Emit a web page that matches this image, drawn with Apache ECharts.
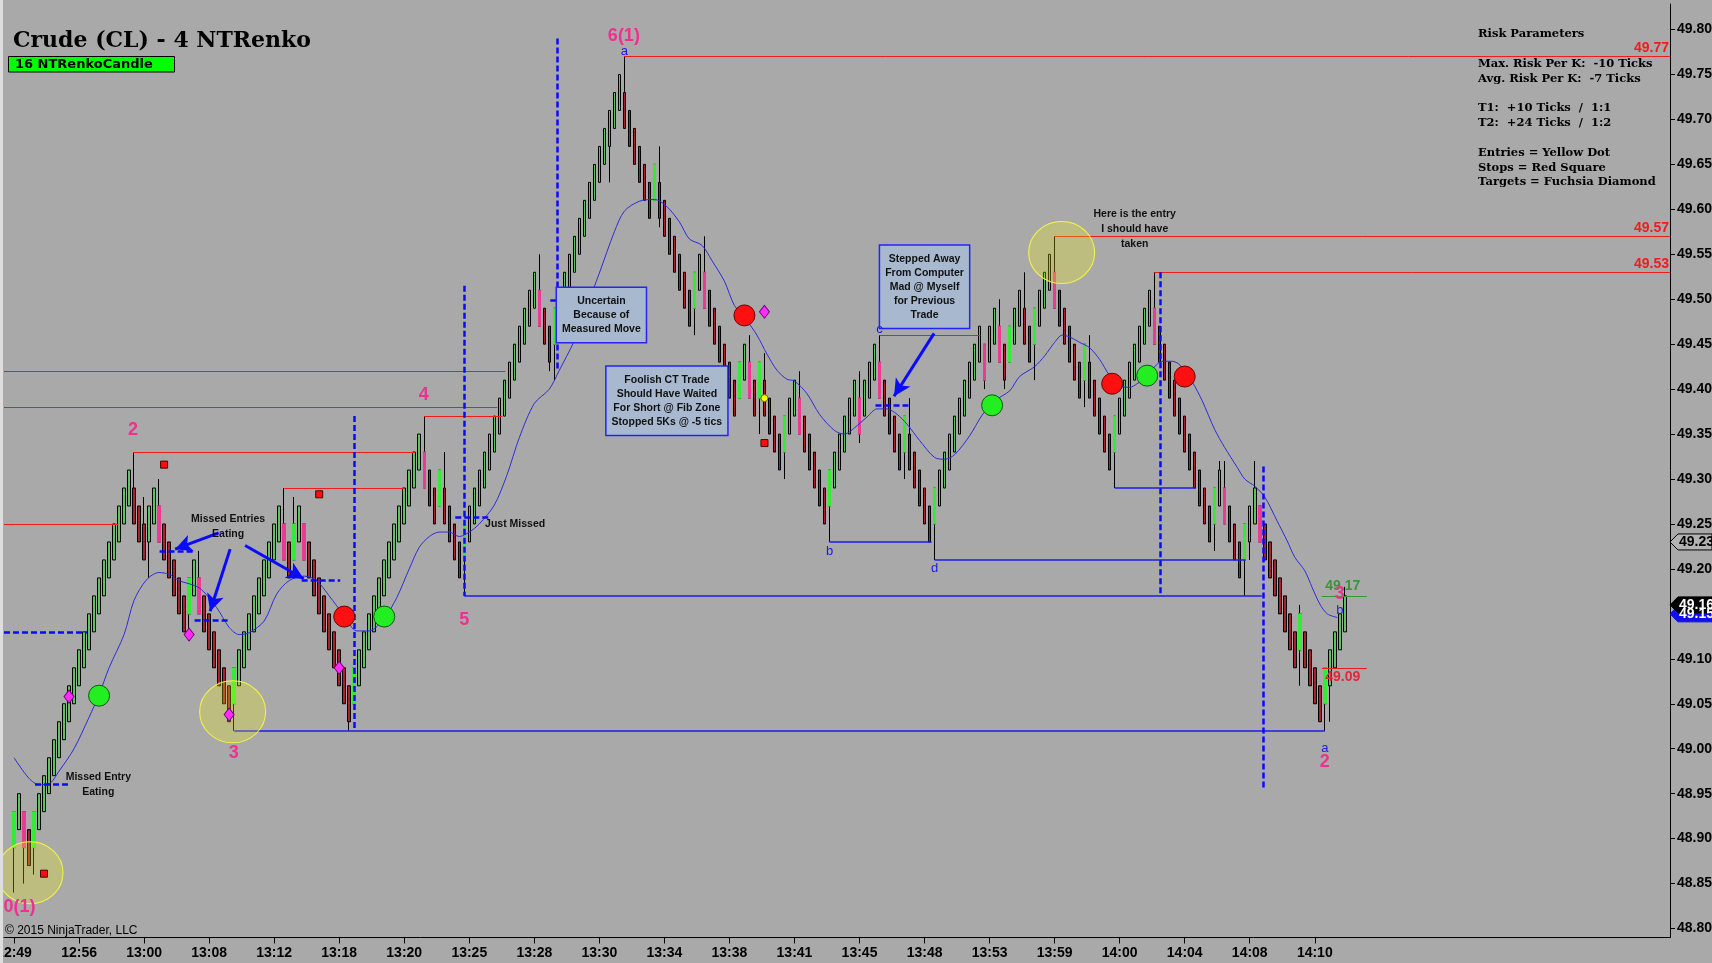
<!DOCTYPE html>
<html><head><meta charset="utf-8">
<script src="https://cdn.jsdelivr.net/npm/echarts@6.0.0/dist/echarts.min.js"></script>
<style>
html,body{margin:0;padding:0;background:#a9a9a9;overflow:hidden;}
#chart{width:1712px;height:963px;}
</style></head><body><div id="chart"></div>
<script>
// ================= DATA =================
const timeLabels = ['12:49','12:56','13:00','13:08','13:12','13:18','13:20','13:25','13:28','13:30','13:34',
  '13:38','13:41','13:45','13:48','13:53','13:59','14:00','14:04','14:08','14:10'];
const barsPerTimeLabel = 13;
const priceTicks = [48.80,48.85,48.90,48.95,49.00,49.05,49.10,49.15,49.20,49.25,49.30,49.35,49.40,
  49.45,49.50,49.55,49.60,49.65,49.70,49.75,49.80];
const brickSize = 0.04;
const firstBarUp = true;
// close of every Renko bar, left to right
const closes = [
  48.93,48.95,48.89,48.87,48.93,48.95,48.97,48.99,49.01,49.03,49.05,49.07,49.09,
  49.11,49.13,49.15,49.17,49.19,49.21,49.23,49.25,49.27,49.29,49.31,49.25,49.23,
  49.21,49.27,49.29,49.23,49.21,49.19,49.17,49.15,49.13,49.19,49.21,49.15,49.13,
  49.11,49.09,49.07,49.05,49.03,49.09,49.11,49.13,49.15,49.17,49.19,49.21,49.23,
  49.25,49.27,49.21,49.19,49.25,49.27,49.21,49.19,49.17,49.15,49.13,49.11,49.09,
  49.07,49.05,49.03,49.09,49.11,49.13,49.15,49.17,49.19,49.21,49.23,49.25,49.27,
  49.29,49.31,49.33,49.35,49.29,49.27,49.25,49.31,49.25,49.23,49.21,49.19,49.25,
  49.27,49.29,49.31,49.33,49.35,49.37,49.39,49.41,49.43,49.45,49.47,49.49,49.51,
  49.53,49.47,49.45,49.43,49.49,49.51,49.53,49.55,49.57,49.59,49.61,49.63,49.65,
  49.67,49.69,49.71,49.73,49.75,49.69,49.67,49.65,49.63,49.61,49.59,49.65,49.59,
  49.57,49.55,49.53,49.51,49.49,49.47,49.53,49.55,49.49,49.47,49.45,49.43,49.41,
  49.39,49.37,49.43,49.45,49.39,49.37,49.43,49.37,49.35,49.33,49.31,49.37,49.39,
  49.41,49.35,49.33,49.31,49.29,49.27,49.25,49.31,49.33,49.35,49.37,49.39,49.41,
  49.35,49.41,49.43,49.45,49.39,49.37,49.35,49.33,49.31,49.37,49.31,49.29,49.27,
  49.25,49.23,49.29,49.31,49.33,49.35,49.37,49.39,49.41,49.43,49.45,49.47,49.41,
  49.47,49.49,49.43,49.41,49.47,49.49,49.51,49.45,49.43,49.49,49.51,49.53,49.55,
  49.49,49.47,49.45,49.43,49.41,49.39,49.45,49.39,49.37,49.35,49.33,49.31,49.37,
  49.39,49.41,49.43,49.45,49.47,49.49,49.51,49.45,49.43,49.41,49.39,49.37,49.35,
  49.33,49.31,49.29,49.27,49.25,49.23,49.29,49.31,49.25,49.23,49.21,49.19,49.25,
  49.27,49.29,49.23,49.21,49.19,49.17,49.15,49.13,49.11,49.09,49.15,49.09,49.07,
  49.05,49.03,49.09,49.11,49.13,49.15,49.17
];
// reversal bars painted lime (up) / pink (down)
const limePinkBars = [0,2,4,29,35,37,44,54,56,58,68,82,85,90,105,108,128,136,138,145,147,149,154,157,
  163,169,173,178,184,194,197,199,204,208,214,220,228,240,242,246,249,257,262];
const wickHighs = [[24,49.33],[26,49.28],[29,49.30],[37,49.22],[54,49.29],[56,49.28],[82,49.37],[86,49.33],
  [105,49.55],[122,49.77],[129,49.67],[138,49.57],[147,49.46],[150,49.44],[157,49.42],[169,49.42],[173,49.46],
  [179,49.39],[197,49.50],[202,49.53],[208,49.57],[215,49.46],[228,49.53],[241,49.32],[242,49.32],[248,49.32],
  [257,49.16],[266,49.18]];
const wickLows = [[0,48.84],[2,48.85],[4,48.86],[27,49.19],[35,49.12],[44,49.02],[67,49.02],[90,49.17],
  [107,49.42],[108,49.41],[119,49.63],[129,49.58],[136,49.46],[149,49.35],[154,49.30],[163,49.23],[169,49.34],
  [178,49.30],[184,49.21],[194,49.40],[198,49.40],[204,49.41],[214,49.38],[220,49.29],[240,49.22],[246,49.17],
  [247,49.21],[257,49.07],[262,49.02],[263,49.03]];
// blue moving average [bar, price]
const maLine = [[0,48.99],[3,48.967],[5,48.96],[7,48.961],[9,48.975],[12,49.0],[15,49.035],[17,49.06],[19,49.09],
  [22,49.127],[24,49.165],[26.5,49.188],[29,49.196],[31,49.194],[33,49.187],[37,49.179],[40.5,49.157],[43,49.135],
  [45,49.127],[47,49.129],[50,49.142],[52.5,49.172],[55,49.187],[58,49.192],[60.5,49.187],[63,49.17],[66,49.148],
  [68.5,49.131],[71,49.131],[74,49.145],[76.5,49.168],[79,49.2],[81,49.224],[83,49.236],[85,49.241],[87,49.241],
  [89,49.236],[91,49.241],[93,49.25],[96,49.271],[98.5,49.304],[101,49.346],[104,49.384],[107,49.40],[109,49.421],
  [112,49.454],[114.5,49.492],[117,49.529],[120,49.575],[122,49.598],[125,49.609],[128,49.611],[130.5,49.603],
  [133,49.586],[135,49.567],[137.5,49.56],[139.5,49.543],[142,49.52],[144,49.493],[146.5,49.476],[148.5,49.46],
  [150.5,49.439],[152.5,49.421],[154.5,49.411],[156,49.409],[158.5,49.395],[161,49.372],[164,49.354],[166,49.35],
  [168,49.357],[170.5,49.369],[172.5,49.378],[174.5,49.378],[176.5,49.372],[178.5,49.361],[181,49.343],[184,49.324],
  [186,49.322],[188,49.327],[191,49.348],[193.5,49.371],[196,49.387],[199,49.398],[201,49.414],[204,49.425],
  [206,49.437],[208,49.452],[209.5,49.46],[211,49.458],[213,49.452],[215,49.446],[217,49.433],[219,49.415],
  [221,49.404],[223,49.402],[224.5,49.406],[226.5,49.414],[228,49.425],[229.5,49.431],[231.5,49.431],[233,49.427],
  [235.5,49.408],[237.5,49.387],[240,49.355],[242,49.335],[244.5,49.313],[246,49.30],[248,49.292],[250,49.28],
  [252.5,49.253],[254.5,49.231],[256,49.213],[258,49.198],[259.5,49.179],[261,49.161],[262.5,49.15],[264.5,49.146]];
// markers [bar, price]
const greenDots = [[17,49.059],[74,49.147],[195.5,49.382],[226.5,49.415]];
const redDots = [[66,49.147],[146,49.482],[219.5,49.406],[234,49.414]];
const yellowRings = [[3.2,48.862],[43.7,49.041],[209.4,49.552]];
const stopSquares = [[6,48.861],[30,49.316],[61,49.283],[150,49.34]];
const targetDiamonds = [[11,49.058],[35,49.127],[43,49.038],[65,49.09],[150,49.486]];
const entryDots = [[150,49.39]];
// levels [fromBar, toBar, price]
const resistance = [[-2,98.2,49.42],[-2,96.6,49.38],[23.8,80.2,49.33],[54,78,49.29],[-2,20.8,49.25],
  [82,97.6,49.37],[173,193.2,49.46],[122,331,49.77],[208,331,49.57],[228,331,49.53]];
const labeledLevels = [49.77,49.57,49.53];
const support = [[44,262,49.02],[90,249.4,49.17],[184,246.2,49.21],[163,183.4,49.23],[220,236.2,49.29]];
const entryDashes = [[-2,14.6,49.13],[4.2,11.2,48.96],[29.1,36.1,49.22],[36.1,43.1,49.143],[57.5,65.2,49.187],
  [88.2,95.2,49.257],[107.2,113.2,49.499],[172.2,179.2,49.382]];
// vertical dashes [bar, fromPrice, toPrice]
const verticalDashes = [[68,49.37,49.02],[90,49.515,49.17],[108.6,49.79,49.42],[229.2,49.53,49.17],[249.6,49.314,48.955]];
// arrows [fromBar, fromPrice, toBar, toPrice]
const arrows = [[40.9,49.24,32.2,49.222],[43.2,49.222,39.2,49.153],[46.2,49.226,57.9,49.189],[183.9,49.462,175.9,49.392]];
const targetLine = [261.4,270.4,49.17];
const stopLine = [261.4,270.4,49.09];
const tradeLabels = [[265.6,49.181,'49.17'],[265.6,49.080,'49.09']];
const waveLabels = [[1.1,48.824,'0(1)'],[23.8,49.354,'2'],[43.9,48.995,'3'],[81.9,49.393,'4'],[90,49.143,'5'],
  [121.9,49.793,'6(1)'],[262,48.985,'2'],[265,49.172,'3']];
const legLetters = [[122,49.776,'a'],[163,49.22,'b'],[173,49.466,'c'],[184,49.20,'d'],[262,49.00,'a'],[265,49.154,'b']];
const notes = [[42.8,49.247,'Missed Entries\nEating'],[16.85,48.96,'Missed Entry\nEating'],
  [224,49.578,'Here is the entry\nI should have\ntaken']];
const leftNotes = [[94.15,49.25,'Just Missed']];
const boxedNotes = [[117.4,49.4825,'Uncertain\nBecause of\nMeasured Move'],
  [130.5,49.387,'Foolish CT Trade\nShould Have Waited\nFor Short @ Fib Zone\nStopped 5Ks @ -5 tics'],
  [182,49.514,'Stepped Away\nFrom Computer\nMad @ Myself\nfor Previous\nTrade']];
const priceTags = [[49.23,'outline'],[49.15,'blue'],[49.16,'black']];
const chartTitle = 'Crude (CL) - 4 NTRenko';
const indicatorName = '16 NTRenkoCandle';
const copyright = '\u00A9 2015 NinjaTrader, LLC';
const riskLines = ['Risk Parameters','','Max. Risk Per K:  -10 Ticks','Avg. Risk Per K:  -7 Ticks','',
  'T1:  +10 Ticks  /  1:1','T2:  +24 Ticks  /  1:2','','Entries = Yellow Dot','Stops = Red Square','Targets = Fuchsia Diamond'];

// ================= BUILD =================
const COL = {bg:'#a9a9a9', up:'#5cc45c', down:'#a8222e', lime:'#33ec33', pink:'#ec3a92', red:'#f01c1c',
  blue:'#1d1df0', dash:'#0a0aff', ma:'#2c2cd8', wave:'#ec3290', txt:'#111'};
const wl = new Map(wickLows), wh = new Map(wickHighs), hl = new Set(limePinkBars);
const candles = [], limeBodies = [], pinkBodies = [];
closes.forEach((c, k) => {
  const up = k === 0 ? firstBarUp : c > closes[k - 1];
  const o = +(up ? c - brickSize : c + brickSize).toFixed(2);
  const lo = Math.min(o, c), hi = Math.max(o, c);
  candles.push([k, o, c, wl.has(k) ? Math.min(wl.get(k), lo) : lo, wh.has(k) ? Math.max(wh.get(k), hi) : hi]);
  if (hl.has(k)) (up ? limeBodies : pinkBodies).push([k, o, c, lo, hi]);
});
const tickBars = timeLabels.map((_, i) => i * barsPerTimeLabel);

const ml = [];
resistance.forEach(([a, b, p]) => {
  const s = {coord: [a, p], lineStyle: {color: COL.red, width: 1, type: 'solid'}};
  if (labeledLevels.includes(p)) s.label = {show: true, position: 'insideEndTop', formatter: p.toFixed(2),
    color: COL.red, fontSize: 14, fontWeight: 'bold', distance: 1};
  ml.push([s, {coord: [b, p]}]);
});
support.forEach(([a, b, p]) => ml.push([{coord: [a, p], lineStyle: {color: COL.blue, width: 1.5, type: 'solid'}}, {coord: [b, p]}]));
entryDashes.forEach(([a, b, p]) => ml.push([{coord: [a, p], lineStyle: {color: COL.dash, width: 2.5, type: [6, 3]}}, {coord: [b, p]}]));
verticalDashes.forEach(([k, p1, p2]) => ml.push([{coord: [k, p1], lineStyle: {color: COL.dash, width: 2.5, type: [6, 3]}}, {coord: [k, p2]}]));
ml.push([{coord: [targetLine[0], targetLine[2]], lineStyle: {color: '#2f9a2f', width: 1, type: 'solid'}}, {coord: [targetLine[1], targetLine[2]]}]);
ml.push([{coord: [stopLine[0], stopLine[2]], lineStyle: {color: COL.red, width: 1, type: 'solid'}}, {coord: [stopLine[1], stopLine[2]]}]);
arrows.forEach(([a, p, b, q]) => ml.push([{coord: [a, p], symbol: 'none', lineStyle: {color: COL.dash, width: 3, type: 'solid'}},
  {coord: [b, q], symbol: 'arrow', symbolSize: [13, 17]}]));

const hlStyle = c => ({color: c, color0: c, borderColor: c, borderColor0: c, borderWidth: 1});
const sc = (data, sym, size, fill, border, z) => ({type: 'scatter', data, symbol: sym, symbolSize: size, silent: true, z,
  itemStyle: {color: fill, borderColor: border, borderWidth: 1, opacity: 1}});

const chart = echarts.init(document.getElementById('chart'), null, {width: 1712, height: 963});
chart.setOption({
  backgroundColor: COL.bg,
  animation: false,
  textStyle: {fontFamily: '"Liberation Sans", Arial, sans-serif'},
  grid: {left: 4, right: 42, top: 4, bottom: 25.5, containLabel: false, outerBoundsMode: 'none'},
  xAxis: {type: 'value', min: -2, max: 331, splitLine: {show: false},
    axisLine: {show: true, onZero: false, lineStyle: {color: '#000', width: 1}},
    axisTick: {show: true, customValues: tickBars, length: 6, lineStyle: {color: '#000'}},
    axisLabel: {customValues: tickBars, margin: 9, color: '#000', fontSize: 14, fontWeight: 'bold',
      formatter: v => timeLabels[Math.round(v / barsPerTimeLabel)] || ''}},
  yAxis: {type: 'value', position: 'right', min: 48.79, max: 49.8284, scale: true, splitLine: {show: false},
    axisLine: {show: true, onZero: false, lineStyle: {color: '#000', width: 1}},
    axisTick: {show: true, customValues: priceTicks, length: 5, lineStyle: {color: '#000'}},
    axisLabel: {customValues: priceTicks, margin: 7, color: '#000', fontSize: 14, fontWeight: 'bold',
      formatter: v => (+v).toFixed(2)}},
  series: [
    {type: 'candlestick', data: candles, barWidth: 3, silent: true, z: 2,
      itemStyle: {color: COL.up, color0: COL.down, borderColor: '#000', borderColor0: '#000', borderWidth: 1}},
    {type: 'candlestick', data: limeBodies, barWidth: 3, silent: true, z: 3, itemStyle: hlStyle(COL.lime)},
    {type: 'candlestick', data: pinkBodies, barWidth: 3, silent: true, z: 3, itemStyle: hlStyle(COL.pink)},
    {type: 'line', data: maLine, smooth: 0.3, showSymbol: false, silent: true, z: 4,
      lineStyle: {color: COL.ma, width: 1},
      markLine: {silent: true, animation: false, symbol: ['none', 'none'], label: {show: false}, data: ml}},
    sc(yellowRings, 'circle', [66, 62], 'rgba(255,255,0,0.24)', '#f5f545', 5),
    sc(greenDots, 'circle', 21, '#22ee22', '#0b5a0b', 6),
    sc(redDots, 'circle', 21, '#ff1010', '#6a0000', 6),
    sc(stopSquares, 'rect', 7, '#ff0c0c', '#4a0000', 6),
    sc(targetDiamonds, 'diamond', [10, 13], '#ff2cff', '#7a007a', 6),
    sc(entryDots, 'circle', 7, '#ffff00', '#6a6a00', 6)
  ]
});

// ---- text annotations positioned through the chart's own scales ----
const P = (k, p) => chart.convertToPixel({gridIndex: 0}, [k, p]);
const axisX = chart.convertToPixel({xAxisIndex: 0}, 331);
const g = [];
g.push({type: 'rect', shape: {x: 0, y: 0, width: 3, height: 963}, style: {fill: '#dedede'}, z: 100});
g.push({type: 'text', x: 13, y: 41, z: 100, style: {text: chartTitle, font: 'bold 22px "DejaVu Serif", serif', fill: '#000', verticalAlign: 'middle'}});
g.push({type: 'rect', shape: {x: 8.5, y: 56.5, width: 166, height: 15.5}, style: {fill: '#00ff00', stroke: '#000', lineWidth: 1}, z: 100});
g.push({type: 'text', x: 15, y: 64.5, z: 101, style: {text: indicatorName, font: 'bold 13px "DejaVu Sans", sans-serif', fill: '#000', verticalAlign: 'middle'}});
g.push({type: 'text', x: 5, y: 931, z: 100, style: {text: copyright, font: '12px "Liberation Sans", Arial', fill: '#000', verticalAlign: 'middle'}});
g.push({type: 'text', x: 1478, y: 27, z: 100, style: {text: riskLines.join('\n'), font: 'bold 11.5px "DejaVu Serif", serif', fill: '#000', lineHeight: 14.8, verticalAlign: 'top'}});
notes.forEach(([k, p, t]) => { const [x, y] = P(k, p);
  g.push({type: 'text', x, y, z: 100, style: {text: t, font: 'bold 10.5px "Liberation Sans", Arial', fill: COL.txt, align: 'center', verticalAlign: 'middle', lineHeight: 15}}); });
leftNotes.forEach(([k, p, t]) => { const [x, y] = P(k, p);
  g.push({type: 'text', x, y, z: 100, style: {text: t, font: 'bold 10.5px "Liberation Sans", Arial', fill: COL.txt, align: 'left', verticalAlign: 'middle'}}); });
boxedNotes.forEach(([k, p, t]) => { const [x, y] = P(k, p);
  g.push({type: 'text', x, y, z: 100, style: {text: t, font: 'bold 10.5px "Liberation Sans", Arial', fill: COL.txt, align: 'center', verticalAlign: 'middle',
    lineHeight: 14, backgroundColor: '#a7b8cf', borderColor: '#2424f5', borderWidth: 1.5, padding: [6, 5]}}); });
waveLabels.forEach(([k, p, t]) => { const [x, y] = P(k, p);
  g.push({type: 'text', x, y, z: 100, style: {text: t, font: 'bold 18px "Liberation Sans", Arial', fill: COL.wave, align: 'center', verticalAlign: 'middle'}}); });
legLetters.forEach(([k, p, t]) => { const [x, y] = P(k, p);
  g.push({type: 'text', x, y, z: 100, style: {text: t, font: '13px "Liberation Sans", Arial', fill: '#1a1aee', align: 'center', verticalAlign: 'middle'}}); });
tradeLabels.forEach(([k, p, t], i) => { const [x, y] = P(k, p);
  g.push({type: 'text', x, y, z: 99, style: {text: t, font: 'bold 14px "Liberation Sans", Arial', fill: i === 0 ? '#3a953a' : '#e0283a', align: 'center', verticalAlign: 'middle'}}); });
const tagStyle = {outline: ['#b3b3b3', '#000', '#000'], blue: ['#1010e8', '#1010e8', '#fff'], black: ['#000', '#000', '#fff']};
priceTags.forEach(([p, kind]) => { const y = chart.convertToPixel({yAxisIndex: 0}, p); const [f, s, t] = tagStyle[kind];
  g.push({type: 'polygon', z: 100, shape: {points: [[axisX, y], [axisX + 8, y - 8], [1712, y - 8], [1712, y + 8], [axisX + 8, y + 8]]}, style: {fill: f, stroke: s, lineWidth: 1}});
  g.push({type: 'text', x: axisX + 9, y, z: 101, style: {text: p.toFixed(2), font: 'bold 14px "Liberation Sans", Arial', fill: t, verticalAlign: 'middle'}}); });
chart.setOption({graphic: {elements: g}});
</script></body></html>
